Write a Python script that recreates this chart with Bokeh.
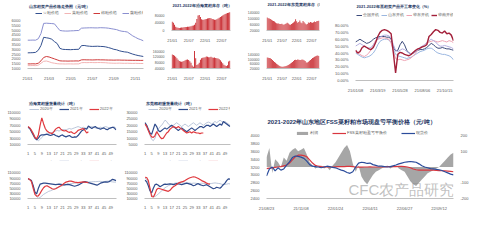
from bokeh.plotting import figure
from bokeh.models import (GridBox, Legend, LegendItem, LinearAxis, Range1d, FixedTicker, Label,
                          NumeralTickFormatter)
from bokeh.embed import file_html
from bokeh.resources import INLINE

# ---------------- data ----------------
TL_TITLE = "山东粕类产品价格走势图（元/吨）"
TL_NAMES = ["豆粕价格", "菜粕价格", "棉粕价格", "葵粕价格"]
TL_TICKS = ["21/01", "21/03", "21/05", "21/07", "21/09", "21/11"]
TL_NAVY = [2630, 2640, 2650, 2680, 2900, 3400, 4250, 4200, 4150, 4050, 3800, 3600, 3100, 3000, 2980,
           2970, 2960, 2980, 2990, 3000, 3380, 3400, 3350, 3320, 3300, 3310, 3320, 3300, 3290, 3250,
           3180, 3100, 3000, 2950, 2850, 2780, 2730, 2700, 2600, 2500, 2420, 2350, 2300, 2250]
TL_PINK = [1300, 1300, 1310, 1300, 1350, 1550, 1750, 1780, 1700, 1600, 1550, 1500, 1480, 1480, 1470,
           1480, 1480, 1470, 1480, 1480, 1600, 1620, 1610, 1620, 1620, 1610, 1620, 1620, 1610, 1600,
           1570, 1560, 1550, 1550, 1560, 1550, 1540, 1550, 1540, 1530, 1540, 1530, 1520, 1520]
TL_RED = [1480, 1480, 1490, 1480, 1550, 1800, 2150, 2250, 2200, 2100, 2000, 1900, 1800, 1780, 1780,
          1770, 1780, 1780, 1790, 1780, 1900, 1910, 1900, 1900, 1890, 1900, 1910, 1900, 1900, 1890,
          1880, 1880, 1870, 1880, 1880, 1870, 1870, 1860, 1860, 1850, 1850, 1850, 1840, 1850]
TL_PURPLE = [3950, 3950, 3960, 3950, 4100, 4650, 5700, 5720, 5700, 5680, 5650, 5300, 4960, 4920, 4900,
             4900, 4920, 4930, 4950, 4960, 5200, 5220, 5230, 5240, 5240, 5230, 5230, 5250, 5240, 5230,
             5200, 5150, 5100, 5050, 4950, 4880, 4850, 4800, 4600, 4400, 4250, 4100, 4000, 3880]

BAR_TICKS = ["21/01", "21/07", "22/01", "22/07"]
B1_TITLE = "2021-2022年沿海菜粕库存（吨）"
B1 = [45000, 40000, 30000, 20000, 16000, 14000, 13000, 14000, 15000, 16000, 17000, 18000, 18000, 19000,
      20000, 21000, 22000, 24000, 26000, 30000, 40000, 60000, 78000, 80000, 70000, 58000, 55000, 56000,
      58000, 60000, 62000, 63000, 65000, 64000, 60000, 58000, 56000, 55000, 58000, 62000, 66000, 70000,
      74000, 78000, 82000, 85000, 88000, 90000, 92000, 94000]
B2_TITLE = "2021-2022年东莞菜粕库存（吨）"
B2 = [105000, 100000, 98000, 95000, 90000, 85000, 82000, 78000, 72000, 68000, 66000, 65000, 63000, 62000,
      64000, 60000, 58000, 62000, 65000, 70000, 66000, 60000, 58000, 62000, 68000, 72000, 78000, 94000,
      80000, 70000, 75000, 85000, 72000, 68000, 82000, 74000, 66000, 60000, 63000, 72000, 70000, 76000,
      72000, 70000, 74000, 78000, 76000, 80000, 82000, 84000]
B3_TITLE = "2021-2022年华东菜粕库存（吨）"
B3 = [136000, 132000, 128000, 120000, 110000, 100000, 92000, 88000, 86000, 88000, 92000, 96000, 100000,
      102000, 98000, 90000, 80000, 60000, 52000, 160000, 110000, 64000, 70000, 80000, 100000, 110000,
      114000, 116000, 118000, 122000, 120000, 118000, 118000, 120000, 116000, 114000, 116000, 112000,
      110000, 108000, 104000, 96000, 86000, 76000, 66000, 60000, 58000, 62000, 88000, 94000]
B4_TITLE = "2021-2022年东莞豆粕库存（吨）"
B4 = [118000, 116000, 112000, 110000, 104000, 96000, 86000, 78000, 70000, 62000, 55000, 48000, 42000,
      38000, 36000, 36000, 38000, 40000, 42000, 46000, 52000, 58000, 64000, 70000, 78000, 86000, 94000,
      98000, 96000, 100000, 98000, 94000, 96000, 100000, 98000, 92000, 86000, 74000, 72000, 80000, 88000,
      96000, 104000, 112000, 118000, 124000, 128000, 132000, 134000, 130000]

TR_TITLE = "2021-2022年豆粕类产品开工率变化（%）"
TR_NAMES = ["全国开机", "山东开机", "华东开机", "华南开机", "华北开机"]
TR_TICKS = ["21/01/08", "21/03/19", "21/05/28", "21/08/06", "21/10/15"]
TR_NAVY = [56, 58, 60, 58, 56, 54, 55, 57, 60, 62, 63, 64, 64, 64, 63, 63, 60, 48, 43, 44, 52, 57, 52,
           44, 40, 39, 40, 42, 44, 45, 45, 46, 48, 51, 54, 52, 49, 47, 47, 48, 47, 46, 46, 45, 44]
TR_LBLUE = [40, 38, 36, 34, 33, 34, 35, 37, 40, 45, 52, 57, 59, 60, 60, 59, 55, 45, 38, 36, 35, 34, 33,
            32, 33, 34, 36, 38, 40, 42, 43, 44, 46, 47, 47, 45, 42, 40, 39, 38, 38, 37, 36, 34, 30]
TR_PINK = [42, 40, 38, 36, 35, 37, 40, 45, 52, 58, 60, 61, 62, 62, 61, 60, 55, 42, 32, 30, 31, 30, 29,
           30, 31, 33, 36, 40, 44, 48, 50, 52, 54, 56, 57, 58, 57, 56, 57, 58, 57, 56, 58, 57, 55]
TR_RED = [44, 40, 42, 48, 50, 48, 46, 45, 48, 55, 64, 70, 73, 74, 73, 71, 68, 40, 11, 38, 41, 40, 38,
          37, 36, 38, 41, 44, 46, 47, 49, 50, 52, 64, 67, 71, 74, 73, 70, 69, 72, 68, 69, 66, 58]
TR_PURPLE = [50, 52, 54, 52, 50, 48, 47, 48, 52, 56, 60, 63, 65, 66, 66, 65, 62, 52, 44, 42, 44, 46, 45,
             42, 40, 39, 40, 42, 45, 48, 50, 52, 55, 58, 60, 58, 56, 52, 50, 50, 51, 50, 49, 48, 46]

WEEK_TICKS = [1, 5, 9, 13, 17, 21, 25, 29, 33, 37, 41, 45, 49]
YEARS = ["2020年", "2021年", "2022年"]
L1_TITLE = "沿海菜粕提货量统计（吨）"
L1_2020 = [66000, 62000, 55000, 45000, 35000, 26000, 22000, 26000, 32000, 38000, 42000, 46000, 44000,
           46000, 48000, 50000, 52000, 54000, 52000, 55000, 56000, 57000, 55000, 58000, 60000, 58000,
           60000, 62000, 64000, 66000, 64000, 62000, 64000, 62000, 60000, 62000, 64000, 66000, 64000,
           62000, 60000, 62000, 64000, 62000, 64000, 66000, 64000, 62000, 62000, 64000, 66000, 60000]
L1_2021 = [64000, 60000, 50000, 40000, 30000, 25000, 30000, 38000, 40000, 40000, 41000, 42000, 40000,
           38000, 40000, 42000, 38000, 36000, 34000, 38000, 40000, 36000, 34000, 36000, 38000, 34000,
           32000, 34000, 33000, 38000, 45000, 52000, 55000, 60000, 58000, 68000, 64000, 60000, 64000,
           66000, 62000, 60000, 58000, 60000, 62000, 58000, 56000, 60000, 62000, 64000, 62000, 56000]
L1_2022 = [66000, 62000, 54000, 44000, 32000, 28000, 40000, 70000, 93000, 75000, 60000, 52000, 48000,
           46000, 44000, 50000, 58000, 62000, 64000, 58000, 54000, 52000, 54000, 50000, 48000, 50000,
           46000, 44000, 48000, 54000, 56000, 58000, 60000, 54000, 46000, 50000]
L2_TITLE = "东莞棉粕提货量统计（吨）"
L2_2020 = [22500, 20000, 16000, 12000, 9000, 8000, 10000, 14000, 17000, 19000, 20000, 22000, 24000,
           23000, 21000, 20000, 19000, 20000, 21000, 22000, 21000, 20000, 19000, 20000, 21000, 20000,
           19000, 20000, 21000, 22000, 21000, 20000, 21000, 22000, 21000, 20000, 21000, 22000, 22500,
           22000, 21000, 22000, 23000, 22000, 23000, 24000, 23000, 22000, 23000, 22000, 21000, 20000]
L2_2021 = [22000, 20000, 17000, 14000, 13000, 17000, 21000, 19000, 16000, 15000, 16000, 17000, 18000,
           17000, 18000, 19000, 20000, 19000, 18000, 17000, 16000, 17000, 18000, 17000, 16000, 15000,
           16000, 17000, 18000, 17000, 16000, 17000, 18000, 19000, 19000, 18000, 19000, 20000, 20000,
           19000, 20000, 21000, 20000, 19000, 20000, 21000, 20000, 23000, 22000, 21000, 20000, 19000]
L2_2022 = [21000, 19000, 16000, 13000, 11000, 10500, 12000, 15000, 13000, 11000, 9500, 10000, 12000,
           14000, 15000, 17000, 18000, 19000, 18500, 18000, 19000, 18000, 17000, 16000, 15000, 14000,
           14500, 15000, 14000, 15000, 14500, 14000, 14000, 13500, 14000, 14000]
L3_TITLE = "东莞豆粕提货量统计（吨）"
L3_2020 = [88000, 84000, 76000, 60000, 35000, 18000, 11000, 14000, 20000, 26000, 30000, 34000, 38000,
           40000, 43000, 46000, 50000, 52000, 55000, 58000, 60000, 62000, 64000, 66000, 67000, 68000,
           69000, 70000, 70000, 71000, 72000, 72000, 73000, 73000, 74000, 74000, 75000, 75000, 76000,
           76000, 76000, 77000, 77000, 76000, 76000, 77000, 78000, 78000, 76000, 75000, 74000, 74000]
L3_2021 = [87000, 84000, 80000, 60000, 35000, 28000, 50000, 66000, 68000, 70000, 70000, 69000, 68000,
           67000, 66000, 65000, 64000, 65000, 66000, 65000, 64000, 63000, 64000, 65000, 64000, 62000,
           60000, 58000, 60000, 62000, 66000, 70000, 74000, 76000, 74000, 72000, 70000, 68000, 66000,
           64000, 62000, 66000, 70000, 72000, 74000, 75000, 74000, 76000, 80000, 85000, 83000, 80000]
L3_2022 = [88000, 84000, 76000, 50000, 26000, 19000, 20000, 30000, 42000, 52000, 58000, 60000, 56000,
           52000, 48000, 46000, 48000, 52000, 56000, 60000, 64000, 70000, 74000, 76000, 78000, 78000,
           76000, 74000, 73000, 72000, 73000, 74000, 75000, 74000, 73000, 72000]
L4_TITLE = "菜籽粕提货量统计（吨）"
L4_2020 = [90000, 84000, 70000, 45000, 25000, 16000, 18000, 22000, 28000, 34000, 40000, 46000, 52000,
           56000, 60000, 63000, 66000, 68000, 70000, 71000, 72000, 72000, 72000, 71000, 70000, 70000,
           71000, 70000, 69000, 70000, 70000, 69000, 68000, 69000, 70000, 69000, 68000, 67000, 66000,
           68000, 69000, 70000, 71000, 70000, 69000, 68000, 66000, 64000, 65000, 66000, 68000, 67000]
L4_2021 = [82000, 75000, 60000, 40000, 32000, 50000, 64000, 66000, 62000, 56000, 60000, 64000, 66000,
           65000, 66000, 67000, 66000, 64000, 66000, 68000, 67000, 66000, 64000, 66000, 68000, 70000,
           68000, 66000, 64000, 60000, 62000, 66000, 68000, 64000, 62000, 60000, 62000, 64000, 60000,
           56000, 52000, 48000, 50000, 54000, 52000, 50000, 56000, 64000, 70000, 80000, 87000, 86000]
L4_2022 = [93000, 92000, 80000, 50000, 18000, 16000, 28000, 45000, 50000, 48000, 46000, 44000, 42000,
           40000, 38000, 42000, 50000, 56000, 60000, 65000, 70000, 73000, 75000, 77000, 80000, 84000,
           88000, 91000, 93000, 95000, 94000, 91000, 88000, 84000, 80000, 77000, 74000, 70000, 67000, 66000]

BR_TITLE = "2021-2022年山东地区FSS菜籽粕市场现盘亏平衡价格（元/吨）"
BR_NAMES = ["利润", "FSS菜籽粕盈亏平衡价", "现货价"]
BR_TICKS = ["21/08/23", "21/11/08", "22/01/24", "22/04/11", "22/06/27", "22/09/12"]
BR_PROFIT = [60, 120, -40, 50, 30, 0, 60, 40, 90, 110, 120, 100, 110, 120, 80, 30, 10, -10, 0, 10, -10,
             0, -20, 10, 30, 60, 90, 120, 140, 100, 20, -30, 10, -60, -90, -110, -80, -50, -30, -20,
             -10, 0, 10, -10, 0, 10, -10, -20, -30, -60, -90, -110, -120, -100, -80, -60, -40, -30,
             -20, -10, 0, 20, 40, 60, 80, 90]
BR_FSS = [3160, 3170, 3180, 3190, 3200, 3210, 3230, 3250, 3300, 3380, 3460, 3500, 3500, 3490, 3460,
          3380, 3300, 3240, 3220, 3210, 3205, 3200, 3200, 3200, 3205, 3210, 3210, 3210, 3215, 3215,
          3210, 3200, 3195, 3195, 3200, 3200, 3205, 3200, 3200, 3200, 3200, 3205, 3210, 3210, 3210,
          3210, 3215, 3215, 3210, 3200, 3180, 3150, 3130, 3120, 3120, 3120, 3120, 3120, 3120, 3115,
          3110, 3105, 3100, 3095, 3090, 3080]
BR_SPOT = [2970, 3150, 3200, 3100, 3180, 3120, 3150, 3250, 3330, 3440, 3480, 3470, 3450, 3420, 3350,
           3260, 3220, 3210, 3200, 3180, 3200, 3220, 3210, 3190, 3180, 3150, 3120, 3100, 3060, 3040,
           3080, 3200, 3300, 3320, 3310, 3290, 3300, 3260, 3240, 3220, 3220, 3210, 3200, 3210, 3230,
           3250, 3280, 3300, 3320, 3330, 3340, 3330, 3320, 3280, 3230, 3200, 3180, 3160, 3150, 3140,
           3130, 3110, 3080, 3050, 3020, 3000]

# ---------------- style helpers ----------------
TITLE_C = "#1f3864"
TICK_C = "#595959"
FS = "4px"


def top_of(lo, hi, h, t, b):
    """Upper range limit so that the plot area also covers the title strip (t-1 px)."""
    return hi + (t - 1) / (h - t - b) * (hi - lo)


def make(w, h, l, r, b, **kw):
    p = figure(width=w, height=h, output_backend="svg", toolbar_location=None,
               min_border_left=l, min_border_right=r, min_border_top=1, min_border_bottom=b, **kw)
    p.title.text = ""
    p.outline_line_color = None
    p.xgrid.visible = False
    p.ygrid.visible = False
    p.border_fill_color = "white"
    p.background_fill_color = "white"
    return p


def title(p, text, y, size=FS, x=1):
    p.add_layout(Label(x=x, y=y, x_units="screen", y_units="screen", text=text,
                       text_font_size=size, text_font_style="bold", text_color=TITLE_C,
                       text_baseline="middle"))


def axes(p, ysize=FS):
    for ax in p.axis:
        ax.major_label_text_font_size = FS
        ax.major_label_text_color = TICK_C
        ax.major_tick_line_color = None
        ax.minor_tick_line_color = None
        ax.major_label_standoff = 1
        ax.axis_line_color = None
    for ax in p.xaxis:
        ax.axis_line_color = "#bfbfbf"
    for ax in p.yaxis:
        ax.formatter = NumeralTickFormatter(format="0")
        ax.major_label_text_font_size = ysize


def legend(p, items, x, y, spacing=6, gw=9):
    lg = Legend(items=[LegendItem(label=n, renderers=[r]) for n, r in items],
                orientation="horizontal", location=(x, y),
                label_text_font_size=FS, label_text_color=TICK_C,
                glyph_width=gw, glyph_height=4, label_height=4, label_width=4,
                label_standoff=1, spacing=spacing, padding=0, margin=0,
                border_line_color=None, background_fill_alpha=0)
    p.add_layout(lg)
    return lg


def ticks(p, labels, step):
    pos = [i * step for i in range(len(labels))]
    ax = p.xaxis[0]
    ax.ticker = FixedTicker(ticks=pos)
    ax.major_label_overrides = {q: s for q, s in zip(pos, labels)}


# ---------------- top-left price chart ----------------
n = len(TL_NAVY)
xs = list(range(n))
tl = make(145, 89, 21, 2, 21, x_range=Range1d(0, n - 1),
          y_range=Range1d(1000, top_of(1000, 6000, 89, 20, 21)))
rn = tl.line(xs, TL_NAVY, color="#33508f", line_width=1)
rp = tl.line(xs, TL_PINK, color="#f2b4b4", line_width=1)
rr = tl.line(xs, TL_RED, color="#cf3a3a", line_width=1)
ru = tl.line(xs, TL_PURPLE, color="#8a8fd0", line_width=1)
axes(tl)
tl.yaxis.ticker = FixedTicker(ticks=[1000 + 500 * i for i in range(11)])
ticks(tl, TL_TICKS, 8)
title(tl, TL_TITLE, 62)
legend(tl, list(zip(TL_NAMES, [rn, rp, rr, ru])), 8, 53, spacing=5, gw=7)


# ---------------- bar charts ----------------
def bar_chart(w, h, l, r, t, b, text, ty, vals, lo, hi, step):
    m = len(vals)
    p = make(w, h, l, r, b, x_range=Range1d(-0.6, m - 0.4),
             y_range=Range1d(lo, top_of(lo, hi, h, t, b)))
    p.vbar(x=list(range(m)), top=vals, bottom=lo, width=0.78, fill_color="#c8262c", line_color=None)
    axes(p, ysize="3.5px")
    p.yaxis.ticker = FixedTicker(ticks=list(range(lo, hi + 1, step)))
    ticks(p, BAR_TICKS, 14)
    title(p, text, ty)
    return p


b1 = bar_chart(97, 45, 26, 8, 11, 14, B1_TITLE, 25, B1, 0, 100000, 40000)
b2 = bar_chart(89, 45, 14, 12, 12, 14, B2_TITLE, 26, B2, 20000, 140000, 40000)
b3 = bar_chart(97, 44, 16, 12, 8, 9, B3_TITLE, 32, B3, 40000, 160000, 40000)
b4 = bar_chart(89, 44, 14, 9, 14, 9, B4_TITLE, 26, B4, 20000, 140000, 40000)

# ---------------- top-right utilisation chart ----------------
n = len(TR_NAVY)
xs = list(range(n))
tr = make(153, 112, 15, 10, 32, x_range=Range1d(0, n - 1),
          y_range=Range1d(0, top_of(0, 80, 112, 25, 32)))
t1 = tr.line(xs, TR_NAVY, color="#3b4a7a", line_width=1)
t2 = tr.line(xs, TR_LBLUE, color="#9bb7e0", line_width=1)
t3 = tr.line(xs, TR_PINK, color="#eea3b3", line_width=1)
t5 = tr.line(xs, TR_PURPLE, color="#b3aee0", line_width=1)
t4 = tr.line(xs, TR_RED, color="#a3203a", line_width=1.4)
axes(tr)
tr.yaxis.ticker = FixedTicker(ticks=list(range(0, 81, 10)))
tr.yaxis.major_label_overrides = {v: f"{v:.2f}%" for v in range(0, 81, 10)}
ticks(tr, TR_TICKS, 10)
title(tr, TR_TITLE, 74)
legend(tr, list(zip(TR_NAMES, [t1, t2, t3, t4, t5])), 1, 63, spacing=2, gw=6)


# ---------------- weekly lifting charts ----------------
def week_chart(w, h, l, r, t, b, text, ty, lx, ly, s20, s21, s22, lo, hi, step):
    p = make(w, h, l, r, b, x_range=Range1d(0.7, 52.3),
             y_range=Range1d(lo, top_of(lo, hi, h, t, b)))
    a = p.line(list(range(1, len(s20) + 1)), s20, color="#a9b8d0", line_width=0.8)
    c = p.line(list(range(1, len(s21) + 1)), s21, color="#2f4b8c", line_width=1.2)
    d = p.line(list(range(1, len(s22) + 1)), s22, color="#e0393e", line_width=1.2)
    axes(p)
    p.yaxis.ticker = FixedTicker(ticks=list(range(lo, hi + 1, step)))
    p.xaxis.ticker = FixedTicker(ticks=WEEK_TICKS)
    title(p, text, ty)
    legend(p, list(zip(YEARS, [a, c, d])), lx, ly, spacing=6, gw=10)
    return p


l1 = week_chart(121, 70, 27, 3, 23, 15, L1_TITLE, 41, 2, 33,
                L1_2020, L1_2021, L1_2022, 10000, 110000, 20000)
l2 = week_chart(121, 70, 16, 8, 23, 15, L2_TITLE, 41, 4, 33,
                L2_2020, L2_2021, L2_2022, 5000, 30000, 5000)
l3 = week_chart(121, 72, 26, 5, 18, 19, L3_TITLE, 44, 2, 37,
                L3_2020, L3_2021, L3_2022, 10000, 110000, 20000)
l4 = week_chart(121, 72, 17, 7, 18, 19, L4_TITLE, 44, 4, 37,
                L4_2020, L4_2021, L4_2022, 10000, 110000, 20000)

# ---------------- bottom-right FSS chart ----------------
n = len(BR_FSS)
xs = list(range(n))
br = make(242, 119, 24, 31, 33, x_range=Range1d(0, n - 1),
          y_range=Range1d(2400, top_of(2400, 4000, 119, 23, 33)))
br.extra_y_ranges = {"r": Range1d(-200, top_of(-200, 200, 119, 23, 33))}
g = br.varea(x=xs, y1=[0] * n, y2=BR_PROFIT, y_range_name="r", fill_color="#a6a6a6")
f = br.line(xs, BR_FSS, color="#d9363e", line_width=1.2)
s = br.line(xs, BR_SPOT, color="#2b4c9b", line_width=1.2)
rax = LinearAxis(y_range_name="r", ticker=FixedTicker(ticks=[-200, -100, 0, 100, 200]),
                 major_label_overrides={0: ""})
br.add_layout(rax, "right")
axes(br)
br.yaxis[0].ticker = FixedTicker(ticks=list(range(2400, 4001, 200)))
ticks(br, BR_TICKS, 12)
title(br, BR_TITLE, 77, size="6px")
legend(br, list(zip(BR_NAMES, [g, f, s])), 29, 63, spacing=14, gw=14)
br.add_layout(Label(x=82, y=1, x_units="screen", y_units="screen", text="CFC农产品研究",
                    text_font_size="15px", text_color="#8c8c8c", text_alpha=0.55,
                    text_baseline="bottom"))

grid = GridBox(children=[(tl, 0, 0, 2, 2), (b1, 0, 2), (b3, 1, 2), (b2, 0, 3), (b4, 1, 3),
                         (tr, 0, 4, 3, 1), (l1, 2, 0, 2, 1), (l2, 2, 1, 2, 2),
                         (l3, 4, 0), (l4, 4, 1, 1, 2), (br, 3, 3, 2, 2)],
               rows=["45px", "44px", "23px", "47px", "72px"],
               cols=["121px", "24px", "97px", "89px", "153px"], spacing=0)

open("out.html", "w").write(file_html(grid, INLINE))
